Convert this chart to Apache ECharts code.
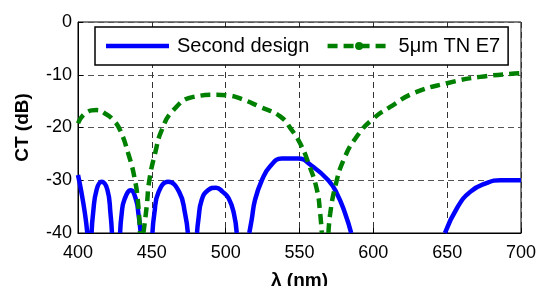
<!DOCTYPE html>
<html>
<head>
<meta charset="utf-8">
<script src="https://cdn.jsdelivr.net/npm/echarts@6/dist/echarts.min.js"></script>
<style>html,body{margin:0;padding:0;background:#fff;}#c{width:539px;height:286px;}</style>
</head>
<body>
<div id="c"></div>
<script>
// Wavelength ticks and CT ticks
var xTicks = [400, 450, 500, 550, 600, 650, 700];
var yTicks = [-40, -30, -20, -10, 0];

// Series 1: "Second design" (null = below -40 dB, off the plot)
var designLambda = [400, 402, 404.7, 406.3, null,
  409.2, 410.2, 412.6, 416, 419.9, 422, 423, null,
  428.5, 429.6, 431.4, 435.7, 439.3, 440.9, 442.5, null,
  450.4, 451.7, 454.6, 461, 468.5, 472.5, 474.4, null,
  480.6, 481.5, 483.8, 488, 493.5, 498, 502, 505.5, 507.5, null,
  516, 517.6, 519.9, 524.5, 530, 538, 549, 558, 569.5, 575.3, 580.9, 585, null,
  648.5, 656.6, 665.6, 677, 686, 700];
var designCT = [-29, -31.8, -36.3, -40, null,
  -40, -36.3, -31.8, -30.3, -31.8, -36.3, -40, null,
  -40, -36.3, -33.7, -31.9, -33.7, -36.3, -40, null,
  -40, -36.3, -32.2, -30.3, -32.2, -36.3, -40, null,
  -40, -37.5, -33.7, -31.9, -31.4, -32.2, -33.4, -36.2, -40, null,
  -40, -37.5, -33.7, -30, -27.4, -25.9, -25.9, -27.2, -30, -32.5, -36.3, -40, null,
  -40, -35.3, -32.2, -30.5, -30, -30];

// Series 2: "5μm TN E7"
var tnLambda = [400, 405, 412.7, 418, 424, 428.5, 434, 438.6, 440.9, 442, null,
  444.3, 446.5, 448.3, 452.2, 456.7, 464.6, 478.2, 494, 500.8, 509.8, 523.3, 536.9,
  544.8, 550.4, 556.1, 561.8, 564, 565.1, null,
  569.6, 570.8, 574.2, 579.8, 588.8, 600, 611.4, 627.2, 649.9, 672.4, 700];
var tnCT = [-19.2, -17.3, -16.7, -17.3, -18.6, -20.5, -24.9, -30, -35, -40, null,
  -40, -35, -30, -24.9, -20.5, -16.7, -14.2, -13.8, -13.9, -14.5, -16.1, -17.9,
  -20.5, -23, -26.8, -31.8, -36.3, -40, null,
  -40, -36.3, -31.2, -26.2, -21.7, -18.3, -16.1, -13.5, -11.6, -10.4, -9.7];

var seriesNames = ['Second design', '5\u03bcm TN E7'];

function pairs(xs, ys) {
  var out = [];
  for (var i = 0; i < xs.length; i++) {
    out.push(xs[i] === null ? [null, null] : [xs[i], ys[i]]);
  }
  return out;
}

var FONT = 'Liberation Sans, Arial, sans-serif';
var chart = echarts.init(document.getElementById('c'), null, {renderer: 'canvas'});
chart.setOption({
  animation: false,
  backgroundColor: '#fff',
  grid: {left: 78, right: 18, top: 22, bottom: 53, containLabel: false, outerBoundsMode: 'none',
    show: true, borderColor: '#000', borderWidth: 1, backgroundColor: 'transparent'},
  legend: {
    left: 95, top: 27,
    padding: [9, 8, 9, 11],
    borderColor: '#000', borderWidth: 1.5, backgroundColor: '#fff',
    itemWidth: 63, itemHeight: 10, itemGap: 16,
    textStyle: {fontFamily: FONT, fontSize: 20, color: '#000', padding: [0, 0, 0, 3]},
    data: [
      {name: seriesNames[0], icon: 'path://M0,0 L63,0 L63,4.5 L0,4.5 Z'},
      {name: seriesNames[1], lineStyle: {width: 4.5, type: [10, 6], color: '#008000'}}
    ]
  },
  xAxis: {
    type: 'value', min: xTicks[0], max: xTicks[xTicks.length - 1], interval: 50,
    name: '\u03bb (nm)', nameLocation: 'middle', nameGap: 38,
    nameTextStyle: {fontFamily: FONT, fontSize: 19, fontWeight: 'bold', color: '#000'},
    axisLine: {show: true, onZero: false, lineStyle: {color: '#000', width: 1}},
    axisTick: {show: true, inside: true, length: 5, lineStyle: {color: '#000'}},
    axisLabel: {fontFamily: FONT, fontSize: 18, color: '#000', margin: 11},
    splitLine: {show: true, lineStyle: {color: '#333', width: 1, type: [6, 4]}}
  },
  yAxis: {
    type: 'value', min: yTicks[0], max: yTicks[yTicks.length - 1], interval: 10,
    name: 'CT (dB)', nameLocation: 'middle', nameGap: 46,
    nameTextStyle: {fontFamily: FONT, fontSize: 19, fontWeight: 'bold', color: '#000'},
    axisLine: {show: true, onZero: false, lineStyle: {color: '#000', width: 1}},
    axisTick: {show: true, inside: true, length: 5, lineStyle: {color: '#000'}},
    axisLabel: {fontFamily: FONT, fontSize: 18, color: '#000', margin: 6},
    splitLine: {show: true, lineStyle: {color: '#555', width: 1, type: [6, 4]}}
  },
  series: [
    {
      name: seriesNames[0], type: 'line', data: pairs(designLambda, designCT),
      symbol: 'none', smooth: 0.5, connectNulls: false, clip: true,
      lineStyle: {color: '#0000ff', width: 4.5}, itemStyle: {color: '#0000ff'}
    },
    {
      name: seriesNames[1], type: 'line', data: pairs(tnLambda, tnCT),
      symbol: 'circle', symbolSize: 9, showSymbol: false, smooth: 0.5, connectNulls: false, clip: true,
      lineStyle: {color: '#008000', width: 4.5, type: [10, 6]}, itemStyle: {color: '#008000'}
    }
  ]
});
</script>
</body>
</html>
